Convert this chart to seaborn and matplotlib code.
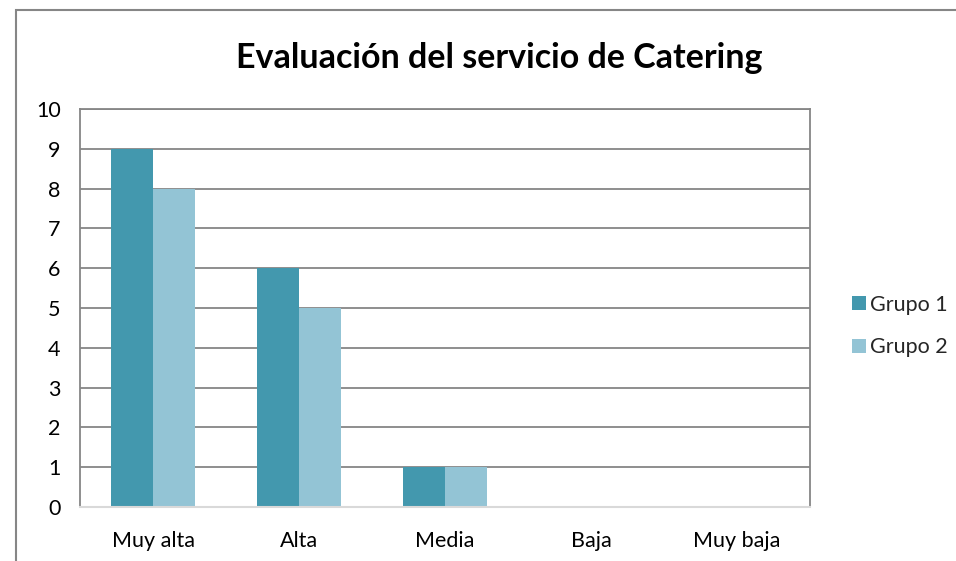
import matplotlib
matplotlib.use("Agg")
import matplotlib.pyplot as plt
import seaborn as sns
import pandas as pd
from matplotlib.patches import Rectangle, Patch

categories = ["Muy alta", "Alta", "Media", "Baja", "Muy baja"]
grupo1 = [9, 6, 1, 0, 0]
grupo2 = [8, 5, 1, 0, 0]
series = ["Grupo 1", "Grupo 2"]
colors = ["#4398AE", "#93C4D5"]

df = pd.DataFrame({
    "categoria": categories * 2,
    "valor": grupo1 + grupo2,
    "grupo": [series[0]] * 5 + [series[1]] * 5,
})

sns.set_style("white")
plt.rcParams["font.family"] = ["Lato", "DejaVu Sans"]

fig = plt.figure(figsize=(9.56, 5.61), dpi=100)
ax = fig.add_axes([80 / 956, 1 - 507 / 561, 730 / 956, 398 / 561])

# outer chart border
fig.patches.append(Rectangle((16 / 956, -0.05), 1.2, 1 - 10 / 561 + 0.05,
                             transform=fig.transFigure, fill=False,
                             edgecolor="#868686", linewidth=1.5))

sns.barplot(data=df, x="categoria", y="valor", hue="grupo", order=categories,
            palette=colors, width=0.57, saturation=1, legend=False,
            linewidth=0, ax=ax)

ax.set_ylim(0, 10)
ax.set_yticks(range(0, 11))
ax.yaxis.grid(True, color="#868686", linewidth=1.3)
ax.set_axisbelow(True)
ax.set_xlabel("")
ax.set_ylabel("")
for side in ["top", "left", "right"]:
    ax.spines[side].set_color("#868686")
    ax.spines[side].set_linewidth(1.3)
ax.spines["bottom"].set_color("#D9D9D9")
ax.spines["bottom"].set_linewidth(1.5)
ax.tick_params(axis="both", length=0, labelsize=15.5, colors="black")
ax.tick_params(axis="y", pad=14)
ax.tick_params(axis="x", pad=17)

fig.text(0.522, 1 - 58 / 561, "Evaluación del servicio de Catering",
         ha="center", va="center", fontsize=24.5, fontweight="bold", color="black")

handles = [Patch(facecolor=c, edgecolor="none") for c in colors]
fig.legend(handles, series, loc="center left", bbox_to_anchor=(841 / 956, 1 - 326 / 561),
           frameon=False, fontsize=15.5, handlelength=0.65, handleheight=0.65,
           handletextpad=0.2, labelspacing=1.05, borderpad=0)

fig.savefig("out.png", dpi=100, facecolor="white")
